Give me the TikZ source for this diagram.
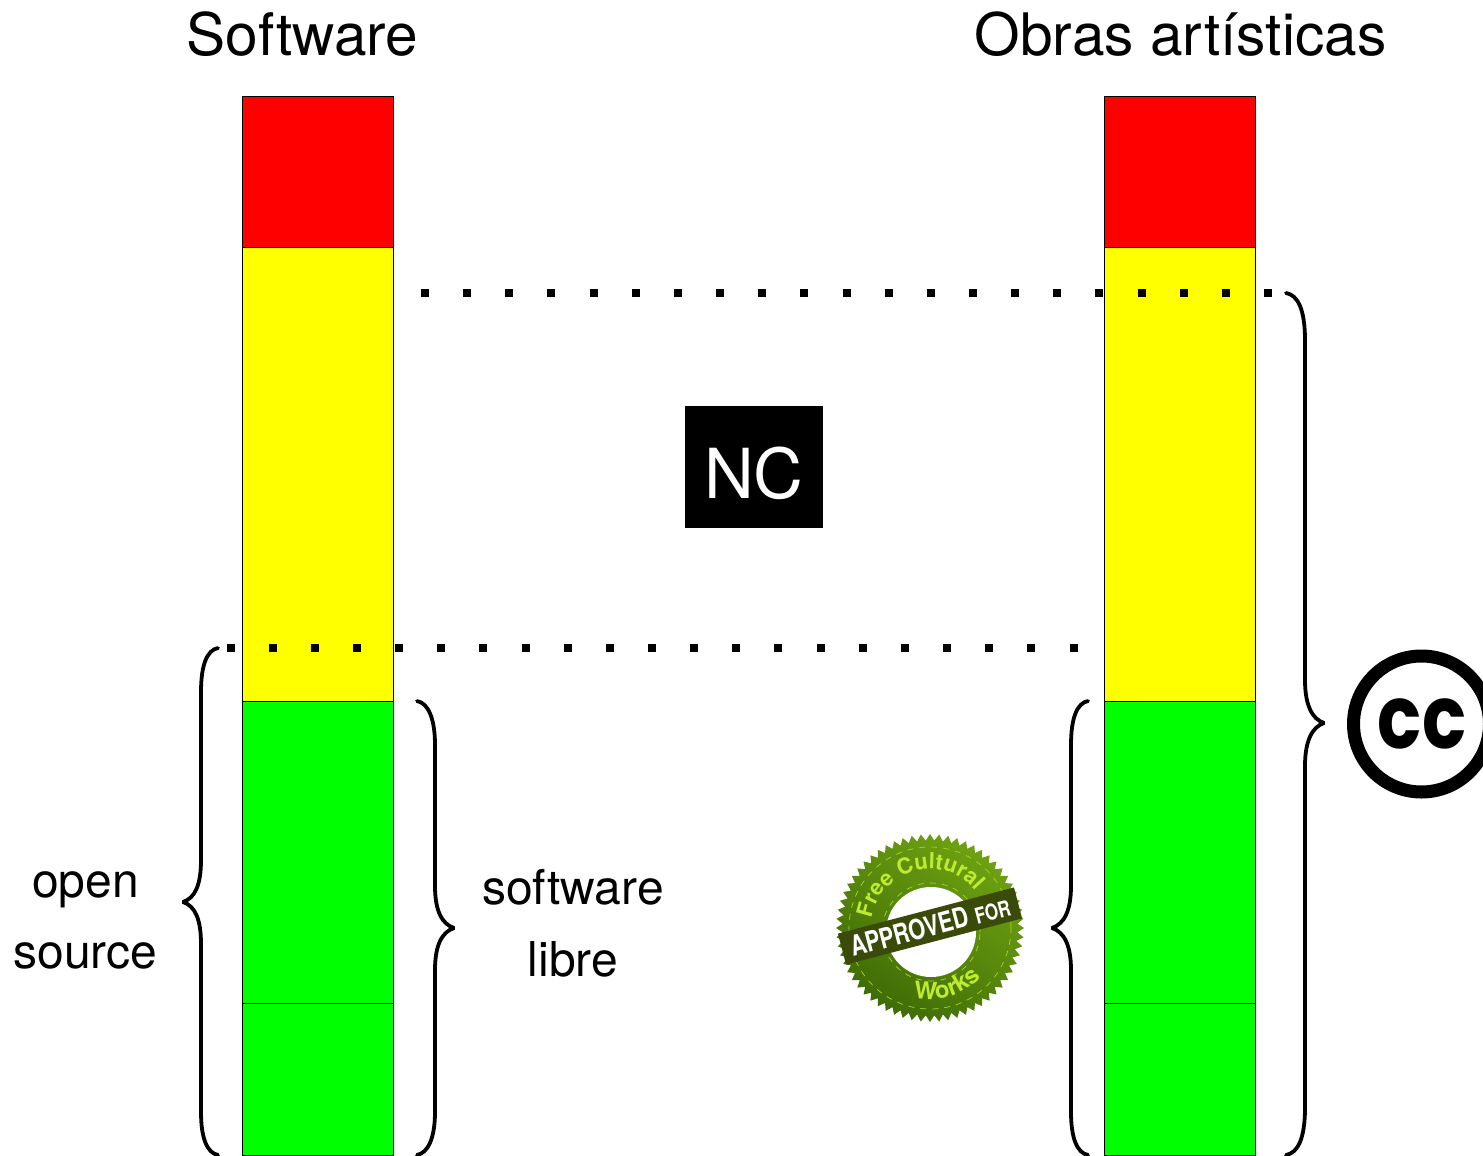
\documentclass[tikz,border=0pt]{standalone}
\usepackage{fontspec}
\setmainfont{TeX Gyre Heros}
\newfontfamily\ccfont[Scale=1]{Poppins}
\usetikzlibrary{shapes.geometric,decorations.text}
\definecolor{barred}{RGB}{255,0,0}
\definecolor{baryellow}{RGB}{255,255,0}
\definecolor{bargreen}{RGB}{0,255,0}
\definecolor{sealdark}{HTML}{3F6B06}
\definecolor{seallight}{HTML}{6FA212}
\definecolor{sealband}{HTML}{3A4A08}
\definecolor{sealtext}{HTML}{BDEB2E}
\tikzset{
  seg/.style={draw=black,line width=.5pt,inner sep=0pt,outer sep=0pt,minimum width=75.5pt,anchor=north west},
  dots/.style={line width=4pt,dash pattern=on 4pt off 17.075pt},
  brace/.style={line width=1.9pt,line cap=round,miter limit=2},
  title/.style={font=\fontsize{29.3}{34}\selectfont,anchor=base},
  lab/.style={font=\fontsize{24}{28}\selectfont,anchor=base},
}
\begin{document}
\begin{tikzpicture}[x=.5pt,y=-.5pt]
\useasboundingbox (0,0) rectangle (1483,1156);
\clip (0,0) rectangle (1483,1156);
% bars
\node[seg,fill=barred,minimum height=75.5pt] (a1) at (242.7,96.5) {};
\node[seg,fill=baryellow,minimum height=227pt] (a2) at (242.7,247.5) {};
\node[seg,fill=bargreen,minimum height=151pt] (a3) at (242.7,701) {};
\node[seg,fill=bargreen,minimum height=76pt] (a4) at (242.7,1003) {};
\node[seg,fill=barred,minimum height=75.5pt] (b1) at (1104.7,96.5) {};
\node[seg,fill=baryellow,minimum height=227pt] (b2) at (1104.7,247.5) {};
\node[seg,fill=bargreen,minimum height=151pt] (b3) at (1104.7,701) {};
\node[seg,fill=bargreen,minimum height=76pt] (b4) at (1104.7,1003) {};
% titles
\node[title] (t1) at (302.5,56) {Software};
\node[title] (t2) at (1180.5,56) {Obras artísticas};
% dotted lines
\coordinate (d1) at (421,293);
\coordinate (d2) at (1273,293);
\coordinate (d3) at (226.5,648);
\coordinate (d4) at (1080,648);
\draw[dots] (d1) -- (d2);
\draw[dots] (d3) -- (d4);
% NC
\node[fill=black,inner sep=0pt,minimum width=69pt,minimum height=61pt] (nc) at (754,467) {};
\node[text=white,inner sep=0pt,anchor=base,font=\fontsize{34.5}{38}\selectfont] (nct) at (754,498) {NC};
% braces
\draw[brace] (218,648) .. controls (207,650) and (201,665) .. (201,692) -- (201,860)
  .. controls (201,885) and (195,898) .. (183,902)
  .. controls (195,906) and (201,919) .. (201,944) -- (201,1112)
  .. controls (201,1138) and (207,1153) .. (218,1155);
\draw[brace] (417,701) .. controls (428,703) and (435,718) .. (435,745) -- (435,886)
  .. controls (435,911) and (442,924) .. (454,928)
  .. controls (442,932) and (435,945) .. (435,970) -- (435,1112)
  .. controls (435,1138) and (428,1153) .. (417,1155);
\draw[brace] (1088,701) .. controls (1077,703) and (1071,718) .. (1071,745) -- (1071,886)
  .. controls (1071,911) and (1064,924) .. (1052,928)
  .. controls (1064,932) and (1071,945) .. (1071,970) -- (1071,1112)
  .. controls (1071,1138) and (1077,1153) .. (1088,1155);
\draw[brace] (1286,293) .. controls (1298,295) and (1305,310) .. (1305,340) -- (1305,680)
  .. controls (1305,705) and (1312,719) .. (1324,723)
  .. controls (1312,727) and (1305,741) .. (1305,766) -- (1305,1108)
  .. controls (1305,1138) and (1298,1153) .. (1286,1155);
% labels
\node[lab] (o1) at (85.5,897) {open};
\node[lab] (o2) at (85.5,968) {source};
\node[lab] (s1) at (573,904) {software};
\node[lab] (s2) at (573,976) {libre};
% CC
\node[circle,draw=black,line width=6.5pt,fill=white,inner sep=0pt,minimum size=68pt] (cc) at (1421.5,724) {};
\node[font=\ccfont\bfseries\fontsize{44}{44}\selectfont,inner sep=0pt,anchor=center] (cct) at (1422,724) {\scalebox{.83}[1]{cc}};
% seal
\begin{scope}[shift={(930,928)},x=.5pt,y=.5pt]
\node[star,star points=64,star point ratio=1.075,minimum size=94pt,inner sep=0pt,top color=seallight,bottom color=sealdark,shading angle=-35] (seal) at (0,0) {};
\draw[sealtext!70!seallight,line width=.35pt,dashed] (0,0) circle (81);
\node[circle,fill=white,inner sep=0pt,minimum size=45pt] (hole) at (1,-4) {};
\draw[sealtext!70!seallight,line width=.35pt,dashed] (1,-4) circle (49);
\path[decorate,decoration={text along path,text align=center,text={|\fontsize{11}{13}\selectfont\bfseries\color{sealtext}|Free Cultural}}]
  (0,0) ++(180:59) arc[start angle=180,end angle=30,radius=59];
\path[decorate,decoration={text along path,text align=center,text={|\fontsize{12}{14}\selectfont\bfseries\color{sealtext}|Works}}]
  (0,0) ++(-110:71) arc[start angle=-110,end angle=-37,radius=71];
\node[fill=sealband,rotate=14.7,minimum width=91pt,minimum height=16pt,inner sep=0pt,text=white,font=\bfseries] (band) at (0,2)
  {\scalebox{.78}[1]{\fontsize{14}{16}\selectfont APPROVED}\,\,\scalebox{.78}[1]{\fontsize{11}{13}\selectfont FOR}};
\end{scope}
\end{tikzpicture}
\end{document}
